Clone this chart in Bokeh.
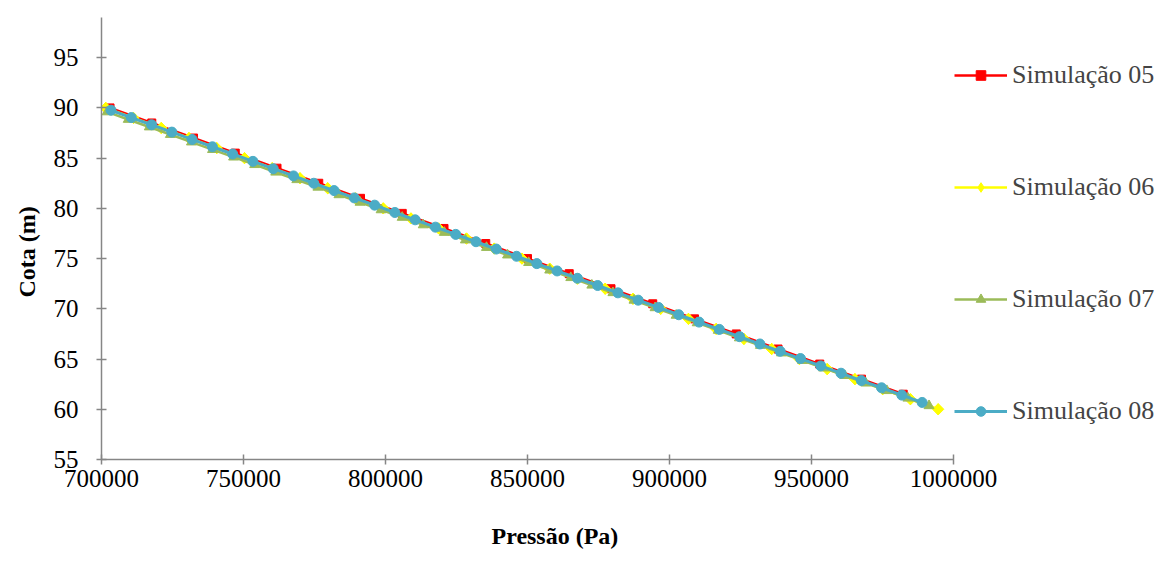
import math
from bokeh.plotting import figure
from bokeh.models import Range1d, FixedTicker, NumeralTickFormatter, Legend, LegendItem, Title
from bokeh.embed import file_html
from bokeh.resources import INLINE

# ---- data ----
x_ticks = [700000, 750000, 800000, 850000, 900000, 950000, 1000000]
y_ticks = [55, 60, 65, 70, 75, 80, 85, 90, 95]

sim05_p = [703000, 717700, 732400, 747100, 761800, 776500, 791200, 805900, 820600, 835300,
           850000, 864700, 879400, 894100, 908800, 923500, 938200, 952900, 967600, 982300]
sim05_z = [90.0, 88.5, 87.0, 85.5, 84.0, 82.5, 81.0, 79.5, 78.0, 76.5,
           75.0, 73.5, 72.0, 70.5, 69.0, 67.5, 66.0, 64.5, 63.0, 61.5]

sim06_p = [701500, 711270, 721040, 730810, 740580, 750350, 760120, 769890, 779660, 789430,
           799200, 808970, 818740, 828510, 838280, 848050, 857820, 867590, 877360, 887130,
           896900, 906670, 916440, 926210, 935980, 945750, 955520, 965290, 975060, 984830,
           994600]
sim06_z = [90, 89, 88, 87, 86, 85, 84, 83, 82, 81,
           80, 79, 78, 77, 76, 75, 74, 73, 72, 71,
           70, 69, 68, 67, 66, 65, 64, 63, 62, 61,
           60]

sim07_p = [702000, 709420, 716840, 724260, 731680, 739100, 746520, 753940, 761360, 768780,
           776200, 783620, 791040, 798460, 805880, 813300, 820720, 828140, 835560, 842980,
           850400, 857820, 865240, 872660, 880080, 887500, 894920, 902340, 909760, 917180,
           924600, 932020, 939440, 946860, 954280, 961700, 969120, 976540, 983960, 991380]
sim07_z = [89.60, 88.85, 88.10, 87.35, 86.60, 85.85, 85.10, 84.35, 83.60, 82.85,
           82.10, 81.35, 80.60, 79.85, 79.10, 78.35, 77.60, 76.85, 76.10, 75.35,
           74.60, 73.85, 73.10, 72.35, 71.60, 70.85, 70.10, 69.35, 68.60, 67.85,
           67.10, 66.35, 65.60, 64.85, 64.10, 63.35, 62.60, 61.85, 61.10, 60.35]

sim08_p = [703350, 710490, 717630, 724770, 731910, 739050, 746190, 753330, 760470, 767610,
           774750, 781890, 789030, 796170, 803310, 810450, 817590, 824730, 831870, 839010,
           846150, 853290, 860430, 867570, 874710, 881850, 888990, 896130, 903270, 910410,
           917550, 924690, 931830, 938970, 946110, 953250, 960390, 967530, 974670, 981810,
           988950]
sim08_z = [89.77, 89.04, 88.32, 87.59, 86.86, 86.13, 85.41, 84.68, 83.95, 83.23,
           82.50, 81.77, 81.04, 80.32, 79.59, 78.86, 78.13, 77.41, 76.68, 75.95,
           75.23, 74.50, 73.77, 73.04, 72.32, 71.59, 70.86, 70.14, 69.41, 68.68,
           67.95, 67.23, 66.50, 65.77, 65.05, 64.32, 63.59, 62.86, 62.14, 61.41,
           60.68]

FONT = "Liberation Serif"
AXIS_GRAY = "#868686"

p = figure(frame_width=852, frame_height=442,
           min_border_left=101, min_border_top=17, min_border_bottom=104, min_border_right=0,
           x_range=Range1d(700000, 1000000), y_range=Range1d(55, 99),
           output_backend="svg", toolbar_location=None)
p.outline_line_color = None
p.xgrid.visible = False
p.ygrid.visible = False
p.background_fill_color = "white"
p.border_fill_color = "white"

p.xaxis.ticker = FixedTicker(ticks=x_ticks)
p.xaxis.formatter = NumeralTickFormatter(format="0")
p.yaxis.ticker = FixedTicker(ticks=y_ticks)
for ax in (p.xaxis[0], p.yaxis[0]):
    ax.axis_line_color = AXIS_GRAY
    ax.axis_line_width = 1.5
    ax.major_tick_line_color = AXIS_GRAY
    ax.major_tick_line_width = 1.5
    ax.major_tick_in = 5
    ax.major_tick_out = 5
    ax.minor_tick_line_color = None
    ax.major_label_text_font = FONT
    ax.major_label_text_font_size = "25px"
    ax.major_label_text_color = "black"
p.xaxis.major_label_standoff = 5
p.yaxis.major_label_standoff = 18

# axis titles placed as side-panel titles (offset like the original)
p.add_layout(Title(text="Pressão (Pa)", align="left", offset=390, vertical_align="top",
                   standoff=66, text_font=FONT, text_font_style="bold",
                   text_font_size="24px", text_color="black"), "below")
p.add_layout(Title(text="Cota (m)", align="left", offset=162, vertical_align="bottom",
                   standoff=22, text_font=FONT, text_font_style="bold",
                   text_font_size="24px", text_color="black"), "left")

series = [
    ("Simulação 05", sim05_p, sim05_z, "#FF0000", "square", 8, 0.0, 2.5),
    ("Simulação 06", sim06_p, sim06_z, "#FFFF00", "square", 8, math.pi / 4, 2.5),
    ("Simulação 07", sim07_p, sim07_z, "#9BBB59", "triangle", 10, 0.0, 2.5),
    ("Simulação 08", sim08_p, sim08_z, "#4BACC6", "circle", 10, 0.0, 3.0),
]
items = []
for name, xs, ys, col, mk, sz, ang, lw in series:
    ln = p.line(xs, ys, line_color=col, line_width=lw)
    if ang != 0.0:
        # diamond (drawn under the rotated squares) so that the legend shows a diamond
        lg = p.scatter(xs, ys, marker="diamond", size=11, fill_color=col, line_color=col)
        p.scatter(xs, ys, marker=mk, size=sz, angle=ang, fill_color=col, line_color=col)
        items.append(LegendItem(label=name, renderers=[ln, lg]))
    else:
        sc = p.scatter(xs, ys, marker=mk, size=sz, fill_color=col, line_color=col)
        items.append(LegendItem(label=name, renderers=[ln, sc]))

legend = Legend(items=items, location=(0, 32), margin=0, padding=1, spacing=82,
                glyph_width=53, glyph_height=24, label_height=24, label_standoff=5,
                label_text_font=FONT, label_text_font_size="26px",
                border_line_alpha=0, background_fill_alpha=0)
p.add_layout(legend, "right")

open("out.html", "w").write(file_html(p, INLINE))
